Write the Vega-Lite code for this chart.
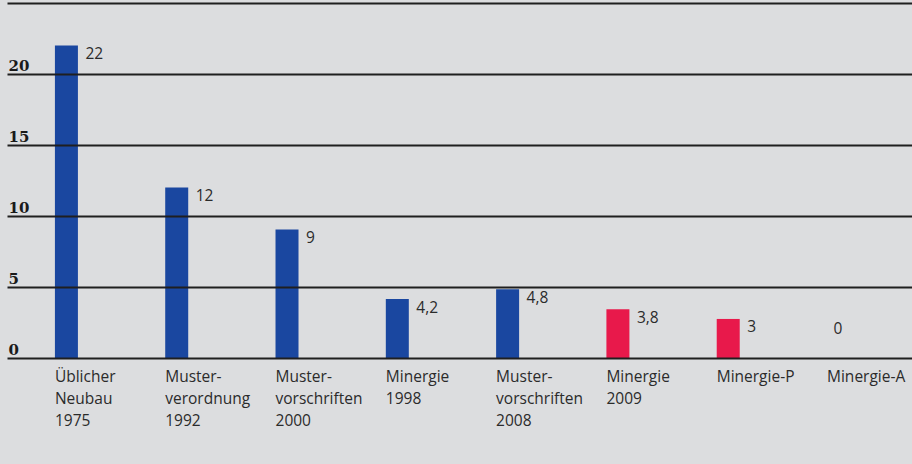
{
  "$schema": "https://vega.github.io/schema/vega-lite/v6.json",
  "width": 905,
  "height": 355,
  "autosize": "none",
  "padding": {"left": 7, "top": 3, "right": 0, "bottom": 106},
  "background": "#dcdddf",
  "config": {"view": {"stroke": null}, "font": "Open Sans"},
  "data": {
    "values": [
      {"kategorie": "Üblicher Neubau 1975", "wert": 22, "beschriftung": "22", "gruppe": "Standard"},
      {"kategorie": "Muster- verordnung 1992", "wert": 12, "beschriftung": "12", "gruppe": "Standard"},
      {"kategorie": "Muster- vorschriften 2000", "wert": 9.05, "beschriftung": "9", "gruppe": "Standard"},
      {"kategorie": "Minergie 1998", "wert": 4.15, "beschriftung": "4,2", "gruppe": "Standard"},
      {"kategorie": "Muster- vorschriften 2008", "wert": 4.84, "beschriftung": "4,8", "gruppe": "Standard"},
      {"kategorie": "Minergie 2009", "wert": 3.43, "beschriftung": "3,8", "gruppe": "Minergie neu"},
      {"kategorie": "Minergie-P", "wert": 2.75, "beschriftung": "3", "gruppe": "Minergie neu"},
      {"kategorie": "Minergie-A", "wert": 0, "beschriftung": "0", "gruppe": "Minergie neu"}
    ]
  },
  "encoding": {
    "x": {
      "field": "kategorie",
      "type": "nominal",
      "sort": null,
      "scale": {"paddingInner": 0.7915, "paddingOuter": 0.4982, "align": 0.436},
      "axis": {
        "title": null,
        "domain": false,
        "ticks": false,
        "tickSize": 0,
        "labelAngle": 0,
        "labelAlign": "left",
        "labelBaseline": "top",
        "labelOffset": -11.5,
        "labelPadding": 11,
        "labelFont": "Open Sans",
        "labelFontSize": 15.5,
        "labelColor": "#2b2b2b",
        "labelLineHeight": 22,
        "labelLimit": 0,
        "labelOverlap": false,
        "labelBound": false,
        "labelExpr": "split(datum.label, ' ')"
      }
    }
  },
  "layer": [
    {
      "mark": {"type": "bar"},
      "encoding": {
        "y": {
          "field": "wert",
          "type": "quantitative",
          "scale": {"domain": [0, 25], "nice": false},
          "axis": {
            "title": null,
            "values": [0, 5, 10, 15, 20, 25],
            "domain": false,
            "ticks": false,
            "tickSize": 0,
            "grid": true,
            "gridColor": "#1f1f1f",
            "gridWidth": 2,
            "gridOpacity": 1,
            "labelAlign": "left",
            "labelBaseline": "alphabetic",
            "labelPadding": -1,
            "labelOffset": -4,
            "labelFont": "DejaVu Serif",
            "labelFontWeight": "bold",
            "labelFontSize": 15,
            "labelColor": "#1a1a1a",
            "labelExpr": "datum.value == 25 ? '' : datum.label",
            "zindex": 1
          }
        },
        "color": {
          "field": "gruppe",
          "type": "nominal",
          "scale": {"domain": ["Standard", "Minergie neu"], "range": ["#1a47a0", "#e8194b"]},
          "legend": null
        }
      }
    },
    {
      "transform": [{"filter": "datum.wert > 0"}],
      "mark": {"type": "text", "align": "left", "baseline": "top", "dx": 19, "dy": 1.5, "fontSize": 15.5, "font": "Open Sans", "color": "#2b2b2b"},
      "encoding": {
        "y": {"field": "wert", "type": "quantitative"},
        "text": {"field": "beschriftung"}
      }
    },
    {
      "transform": [{"filter": "datum.wert == 0"}],
      "mark": {"type": "text", "align": "left", "baseline": "top", "dx": -5, "dy": -36.5, "fontSize": 15.5, "font": "Open Sans", "color": "#2b2b2b"},
      "encoding": {
        "y": {"field": "wert", "type": "quantitative"},
        "text": {"field": "beschriftung"}
      }
    }
  ]
}
